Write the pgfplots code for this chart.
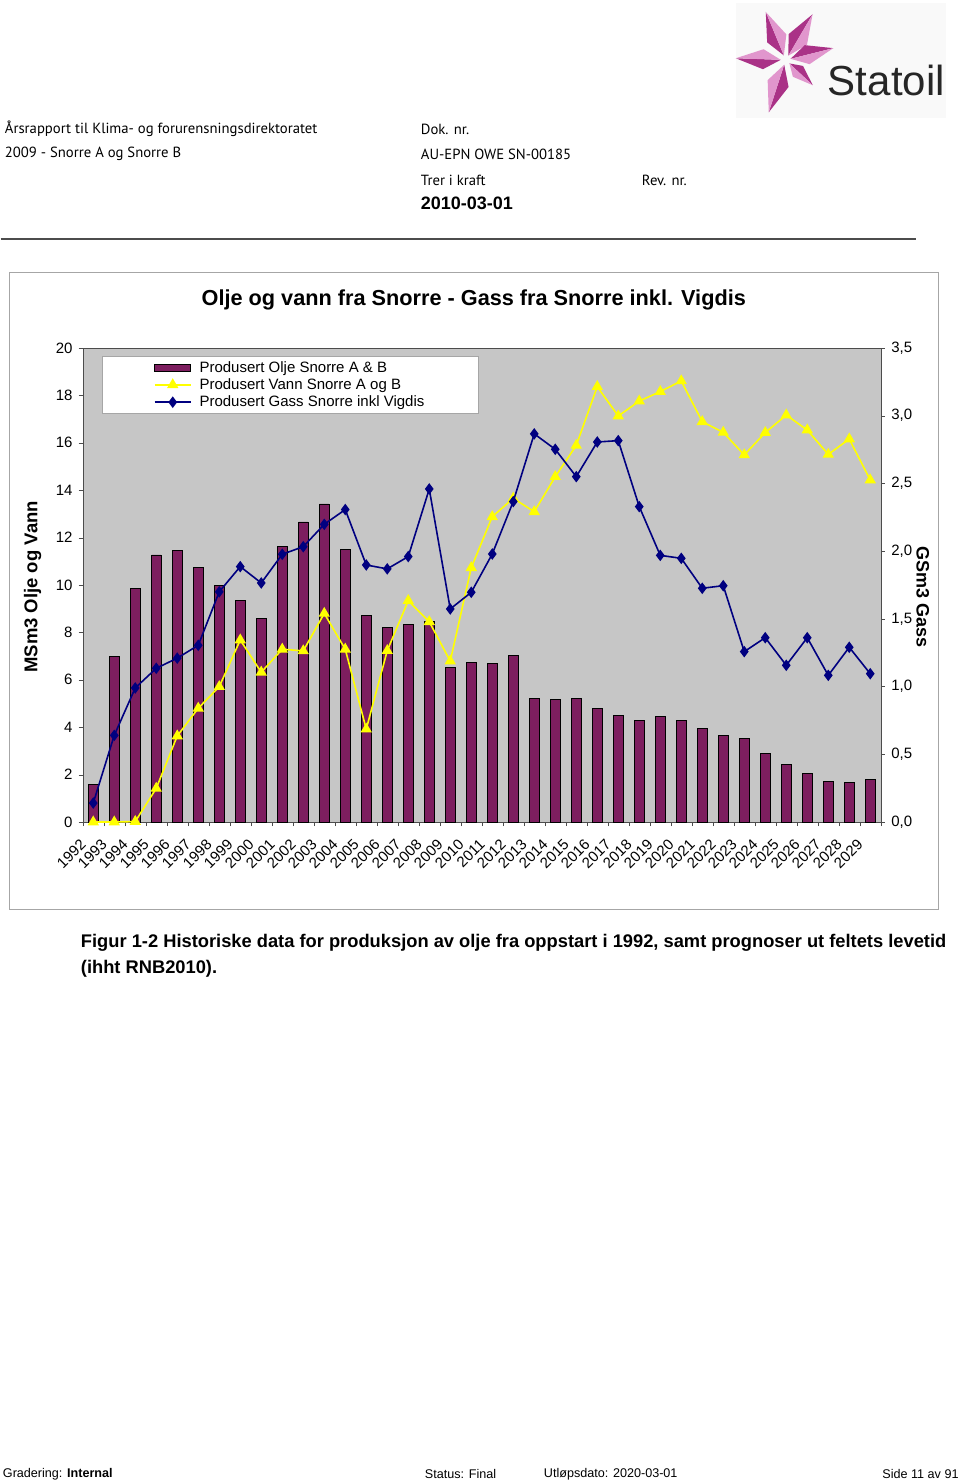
\documentclass[border=0pt]{standalone}
\usepackage{fontspec}
\setmainfont{Liberation Sans}
\newfontfamily\hdr{PT Sans}
\usepackage{pgfplots}
\usepackage{pgfplotstable}
\pgfplotsset{compat=1.18}
\definecolor{plotgray}{RGB}{198,198,198}
\definecolor{oil}{RGB}{125,30,95}
\definecolor{water}{RGB}{255,255,0}
\definecolor{gas}{RGB}{0,0,128}
\definecolor{pinkdark}{RGB}{170,50,135}
\definecolor{pinklight}{RGB}{225,150,205}
\pgfplotsset{
 mylegline/.style={legend image code/.code={\draw[mark repeat=2,mark phase=2,##1] plot coordinates {(0pt,0pt)(18pt,0pt)(36pt,0pt)};\path (42pt,0pt);}},
 mylegbar/.style={legend image code/.code={\draw[fill=oil,draw=black,line width=0.8pt] (0pt,-3.5pt) rectangle (36pt,3.5pt);\path (42pt,0pt);}},
}
\pgfplotstableread{
x y
0 1.6
1 7.0
2 9.86
3 11.27
4 11.45
5 10.73
6 9.97
7 9.34
8 8.59
9 11.62
10 12.66
11 13.42
12 11.5
13 8.71
14 8.2
15 8.35
16 8.48
17 6.54
18 6.72
19 6.68
20 7.02
21 5.22
22 5.16
23 5.22
24 4.81
25 4.51
26 4.29
27 4.46
28 4.29
29 3.94
30 3.64
31 3.53
32 2.88
33 2.42
34 2.03
35 1.73
36 1.67
37 1.79
}\oildata
\pgfplotstableread{
x y
0 0
1 0
2 0.02
3 1.42
4 3.63
5 4.8
6 5.71
7 7.68
8 6.32
9 7.29
10 7.22
11 8.8
12 7.29
13 3.92
14 7.23
15 9.34
16 8.45
17 6.79
18 10.73
19 12.88
20 13.66
21 13.09
22 14.57
23 15.89
24 18.37
25 17.13
26 17.76
27 18.16
28 18.61
29 16.89
30 16.44
31 15.49
32 16.43
33 17.17
34 16.54
35 15.51
36 16.16
37 14.43
}\waterdata
\pgfplotstableread{
x y
0 0.14
1 0.64
2 0.99
3 1.135
4 1.21
5 1.305
6 1.70
7 1.886
8 1.765
9 1.977
10 2.033
11 2.198
12 2.307
13 1.898
14 1.869
15 1.96
16 2.459
17 1.573
18 1.696
19 1.979
20 2.366
21 2.866
22 2.752
23 2.55
24 2.806
25 2.816
26 2.329
27 1.969
28 1.947
29 1.726
30 1.745
31 1.258
32 1.361
33 1.157
34 1.361
35 1.083
36 1.29
37 1.095
}\gasdata
\begin{document}
\begin{tikzpicture}[x=1pt,y=1pt]
\fill[white] (0,0) rectangle (960,-1483);
% header
\begin{scope}[every node/.style={anchor=west,inner sep=0pt,font=\hdr\fontsize{14.7}{16}\selectfont}]
\node at (4,-129) {Årsrapport til Klima- og forurensningsdirektoratet};
\node at (4,-154) {2009 - Snorre A og Snorre B};
\node at (420,-129) {Dok. nr.};
\node at (420,-154) {AU-EPN OWE SN-00185};
\node at (420,-180) {Trer i kraft};
\node at (641,-180) {Rev. nr.};
\end{scope}
\node[anchor=west,inner sep=0pt,font=\bfseries\fontsize{18}{20}\selectfont] at (420,-203) {2010-03-01};
\draw[line width=1.5pt,gray!60!black] (0,-239) -- (915,-239);
% logo
\fill[gray!5] (735,-3) rectangle (945,-118);
\foreach \a/\l in {112.6/52,59.6/53,14/49,-43/37,-108/55,178/50}{
 \begin{scope}[shift={(785,-60)},rotate=\a]
  \fill[pinkdark] (5,0) -- ({0.45*\l},{0.2*\l}) -- (\l,0) -- cycle;
  \fill[pinklight] (5,0) -- ({0.45*\l},{-0.2*\l}) -- (\l,0) -- cycle;
 \end{scope}}
\node[anchor=base west,inner sep=0pt,font=\fontsize{42}{45}\selectfont,text=gray!30!black] at (827,-95) {Statoil};
% chart frame
\draw[gray!70,line width=1pt] (9,-272) rectangle (938,-909);
\node[font=\bfseries\fontsize{21.7}{26}\selectfont] at (473,-300) {Olje og vann fra Snorre - Gass fra Snorre inkl. Vigdis};
\begin{axis}[
 at={(82pt,-822pt)}, anchor=south west,
 scale only axis, width=798pt, height=474pt,
 xmin=-0.5, xmax=37.5, ymin=0, ymax=20,
 clip=false,
 axis background/.style={fill=plotgray},
 axis line style={draw=gray!60!black},
 ytick={0,2,...,20},
 xtick={0,...,37},
 xticklabels={1992,1993,1994,1995,1996,1997,1998,1999,2000,2001,2002,2003,2004,2005,2006,2007,2008,2009,2010,2011,2012,2013,2014,2015,2016,2017,2018,2019,2020,2021,2022,2023,2024,2025,2026,2027,2028,2029},
 minor xtick={-0.5,0.5,...,37.5},
 xtick style={draw=none},
 minor x tick style={draw=gray!60!black},
 ytick style={draw=gray!60!black},
 tick align=outside,
 major tick length=4pt, minor tick length=4pt,
 xtick pos=bottom, ytick pos=left,
 tick label style={font=\fontsize{15}{17}\selectfont},
 /pgf/number format/assume math mode=true,
 xticklabel style={xshift=-10pt,rotate=45,anchor=east,inner sep=0pt},
 xticklabel shift=16pt,
 yticklabel style={inner sep=0pt},
 yticklabel shift=6pt,
 ylabel={MSm3 Olje og Vann},
 ylabel style={at={(axis description cs:-0.0627,0.496)},anchor=center,font=\bfseries\fontsize{18.5}{20}\selectfont},
]
\addplot[ybar,bar width=9.3pt,fill=oil,draw=black,line width=0.8pt] table {\oildata};
\addplot[water,line width=1.6pt,mark=triangle*,mark size=5pt,mark options={fill=water,draw=water}] table {\waterdata};
\end{axis}
\begin{axis}[
 at={(82pt,-822pt)}, anchor=south west,
 scale only axis, width=798pt, height=474pt,
 xmin=-0.5, xmax=37.5, ymin=0, ymax=3.5,
 axis x line=none, axis y line*=right,
 clip=false,
 axis line style={draw=gray!60!black,-},
 ytick={0,0.5,...,3.5},
 yticklabel style={/pgf/number format/.cd,use comma,fixed,fixed zerofill,precision=1},
 ytick style={draw=gray!60!black},
 tick align=outside, major tick length=4pt,
 tick label style={font=\fontsize{15}{17}\selectfont},
 /pgf/number format/assume math mode=true,
 yticklabel shift=3pt,
 ylabel={GSm3 Gass},
 ylabel style={at={(axis description cs:1.0526,0.4747)},anchor=center,rotate=180,font=\bfseries\fontsize{18}{20}\selectfont},
 legend style={at={(axis description cs:0.0238,0.983)},anchor=north west,draw=gray!70,fill=white,font=\fontsize{15}{17}\selectfont,inner xsep=52pt,inner ysep=3pt,row sep=1pt},
 legend cell align=left,
]
\addlegendimage{mylegbar}
\addlegendentry{Produsert Olje Snorre A \& B}
\addlegendimage{water,line width=1.6pt,mark=triangle*,mark size=5pt,mark options={fill=water,draw=water},mylegline}
\addlegendentry{Produsert Vann Snorre A og B}
\addplot[gas,line width=1.6pt,mark=diamond*,mark size=4.5pt,mark options={fill=gas,draw=gas},mylegline] table {\gasdata};
\addlegendentry{Produsert Gass Snorre inkl Vigdis}
\end{axis}
% caption
\node[anchor=west,inner sep=0pt,font=\bfseries\fontsize{18.3}{20}\selectfont] at (80,-943) {Figur 1-2 Historiske data for produksjon av olje fra oppstart i 1992, samt prognoser ut feltets levetid};
\node[anchor=west,inner sep=0pt,font=\bfseries\fontsize{18.3}{20}\selectfont] at (80,-969) {(ihht RNB2010).};
% footer
\begin{scope}[every node/.style={anchor=west,inner sep=0pt,font=\fontsize{12.6}{15}\selectfont}]
\node at (2,-1474) {Gradering: \textbf{Internal}};
\node at (424,-1474) {Status: Final};
\node at (543,-1474) {Utløpsdato: 2020-03-01};
\node[anchor=east] at (958,-1474) {Side 11 av 91};
\end{scope}
\end{tikzpicture}
\end{document}
